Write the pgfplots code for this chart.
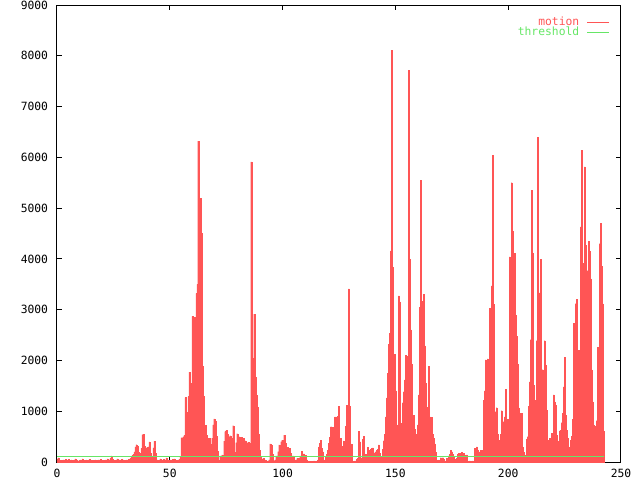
\documentclass[border=0pt]{standalone}
\usepackage{pgfplots}
\usepackage{pgfplotstable}
\pgfplotsset{compat=1.18}
\usepackage{fontspec}
\setmainfont{DejaVu Sans Mono}
\definecolor{motioncol}{RGB}{255,85,85}
\definecolor{threshcol}{RGB}{102,230,102}
% one sample per screen column, spacing 1/2.26 units
\pgfplotstableread[row sep=\\]{
y\\
60\\ 80\\ 40\\ 30\\ 30\\ 30\\ 40\\ 30\\ 50\\ 40\\ 30\\ 50\\ 30\\ 20\\ 40\\ 30\\ 20\\ 40\\ 60\\ 30\\
20\\ 20\\ 30\\ 40\\ 30\\ 60\\ 30\\ 20\\ 30\\ 40\\ 20\\ 30\\ 50\\ 20\\ 30\\ 20\\ 30\\ 20\\ 40\\ 30\\
20\\ 40\\ 30\\ 50\\ 20\\ 30\\ 20\\ 30\\ 40\\ 30\\ 60\\ 30\\ 40\\ 70\\ 120\\ 50\\ 40\\ 30\\ 20\\ 40\\
60\\ 30\\ 40\\ 30\\ 50\\ 20\\ 40\\ 30\\ 20\\ 40\\ 30\\ 50\\ 40\\ 70\\
100\\ 130\\ 150\\ 200\\ 300\\ 340\\ 320\\ 200\\ 170\\ 60\\ 270\\ 540\\ 550\\ 320\\ 240\\ 280\\ 295\\ 300\\ 395\\ 170\\
30\\ 100\\ 280\\ 410\\ 170\\ 40\\ 40\\ 30\\ 40\\
60\\ 40\\ 30\\ 50\\ 30\\ 40\\ 80\\ 40\\ 30\\ 20\\ 40\\ 30\\ 50\\ 40\\ 60\\ 40\\ 30\\ 20\\ 40\\ 50\\ 100\\
480\\ 480\\ 500\\ 530\\ 1270\\ 985\\ 560\\ 1290\\ 1770\\ 1550\\
730\\ 2870\\ 2860\\ 2850\\ 990\\ 3320\\ 3500\\ 6320\\ 3500\\ 5190\\
4500\\ 1890\\ 1290\\ 710\\ 720\\ 530\\ 470\\ 280\\ 470\\ 350\\
350\\ 470\\ 730\\ 850\\ 810\\ 520\\ 215\\ 30\\ 30\\ 120\\
120\\ 140\\ 100\\ 410\\ 600\\ 620\\ 550\\ 370\\ 500\\ 520\\
330\\ 470\\ 715\\ 190\\ 165\\ 380\\ 560\\ 370\\ 500\\ 370\\
485\\ 430\\ 470\\ 410\\ 420\\ 280\\ 370\\ 390\\ 370\\ 350\\ 5910\\
1500\\ 2040\\ 2910\\ 1680\\ 1320\\ 1090\\ 560\\ 240\\ 105\\ 50\\
25\\ 70\\ 25\\ 40\\ 10\\ 10\\ 20\\ 40\\ 355\\ 335\\
160\\ 25\\ 25\\ 40\\ 120\\ 120\\ 205\\ 335\\ 300\\ 400\\
430\\ 400\\ 530\\ 370\\ 235\\ 290\\ 235\\ 270\\
170\\ 120\\ 120\\ 120\\ 40\\ 40\\ 40\\ 70\\ 70\\ 70\\
120\\ 120\\ 215\\ 160\\ 160\\ 130\\ 130\\ 40\\ 15\\ 15\\
15\\ 15\\ 15\\ 15\\ 20\\ 15\\ 15\\ 15\\
40\\ 300\\ 370\\ 430\\ 270\\ 200\\ 40\\ 20\\ 105\\ 150\\
235\\ 370\\ 485\\ 695\\ 500\\ 680\\ 370\\ 890\\ 790\\ 890\\
905\\ 1100\\ 300\\ 465\\ 140\\ 315\\ 415\\ 215\\ 700\\ 1120\\
1100\\ 3410\\ 1100\\ 355\\ 350\\
10\\ 10\\ 20\\ 20\\ 50\\ 70\\ 610\\ 400\\ 20\\ 85\\
445\\ 510\\ 155\\ 155\\ 150\\ 290\\ 235\\ 170\\ 250\\ 270\\
280\\ 170\\ 185\\ 205\\ 235\\ 255\\ 335\\ 170\\ 105\\ 50\\
250\\ 420\\ 545\\ 890\\ 1265\\ 1745\\ 2320\\ 2530\\ 4160\\ 8110\\
3840\\ 1235\\ 2125\\ 1400\\ 730\\ 575\\ 3270\\ 3155\\ 575\\ 760\\
1170\\ 1385\\ 1615\\ 2105\\ 380\\ 2085\\ 7715\\ 3995\\ 2600\\ 1930\\
840\\ 925\\ 645\\ 335\\ 545\\ 730\\ 1320\\ 3045\\ 5550\\ 2600\\
3170\\ 3305\\ 2285\\ 1550\\ 750\\ 1075\\ 1890\\ 890\\ 565\\ 885\\
550\\ 465\\ 355\\ 190\\
40\\ 10\\ 40\\ 10\\ 85\\ 50\\ 85\\ 50\\ 15\\ 20\\
70\\ 70\\ 120\\ 155\\ 235\\ 205\\ 150\\ 105\\ 50\\ 40\\
70\\ 150\\ 170\\ 140\\ 170\\ 190\\ 140\\ 170\\ 130\\ 130\\
140\\ 10\\ 10\\ 20\\ 10\\ 10\\ 20\\ 10\\ 270\\ 235\\
300\\ 235\\ 205\\
170\\ 235\\ 170\\ 235\\ 1220\\ 1400\\ 2010\\ 1875\\ 2030\\ 1190\\
3025\\ 2780\\ 3470\\ 6040\\ 3110\\ 235\\ 990\\ 1070\\ 545\\ 420\\
430\\ 545\\ 1010\\ 300\\ 795\\ 890\\ 1430\\ 420\\ 840\\ 650\\
4040\\ 3880\\ 5500\\ 4550\\ 3450\\ 4110\\ 2890\\ 2480\\ 1930\\ 1070\\
960\\ 550\\ 960\\ 300\\ 200\\ 140\\ 40\\ 450\\ 500\\ 1100\\
1580\\ 2410\\ 5350\\ 4120\\ 1515\\ 1220\\ 815\\ 2390\\ 6400\\ 2730\\
3330\\ 3990\\ 1500\\ 1820\\ 1150\\ 2390\\ 1910\\ 1020\\ 430\\ 420\\
465\\ 250\\ 565\\ 370\\ 1320\\ 1190\\ 1120\\ 530\\ 415\\ 380\\
615\\ 630\\ 775\\ 960\\ 1480\\ 2060\\ 925\\ 630\\ 465\\ 300\\
250\\ 430\\ 510\\ 845\\ 2730\\ 2530\\ 3120\\ 3200\\ 1560\\ 2200\\
1190\\ 4630\\ 6140\\ 3910\\ 3170\\ 5810\\ 4270\\ 2010\\ 3770\\ 4350\\
4160\\ 3610\\ 1820\\ 1190\\ 730\\ 660\\ 700\\ 815\\ 2260\\ 2260\\
4300\\ 4700\\ 3860\\ 3120\\ 600\\
}\motiontable

\begin{document}
\begin{tikzpicture}
\path[use as bounding box] (-42.75pt,-13.5pt) rectangle (437.25pt,346.5pt);
\begin{axis}[
  at={(0pt,0pt)}, anchor=south west,
  scale only axis, width=423pt, height=342.75pt,
  xmin=0, xmax=250, ymin=0, ymax=9000,
  xtick={0,50,...,250}, ytick={0,1000,...,9000},
  minor tick num=0,
  tick align=inside, major tick length=4pt,
  axis line style={line width=0.75pt},
  every tick/.style={black, line width=0.75pt},
  /pgf/number format/assume math mode=true,
  /pgf/number format/1000 sep={},
  scaled ticks=false,
  tick label style={font=\fontsize{8.5}{10}\selectfont, inner sep=0pt},
  yticklabel style={anchor=east, xshift=-6.5pt},
  xticklabel style={anchor=north, yshift=-4.9pt},
  legend cell align=right,
  legend plot pos=right,
  legend style={draw=none, fill=none, at={(rel axis cs:1,1)}, anchor=north east,
    xshift=-8.25pt, yshift=-8pt, inner sep=0pt, row sep=-1.3pt,
    font=\fontsize{8.5}{10}\selectfont,
    nodes={inner sep=0.6pt},
    /tikz/every odd column/.style={column sep=5pt}},
]
\addplot[ybar, bar width=0.44248, fill=motioncol, draw=motioncol, line width=0.1pt,
  legend image code/.code={\draw[motioncol, line width=0.75pt] (0pt,0pt) -- (16.5pt,0pt);}]
  table[x expr=\coordindex*0.44248+0.2212, y=y] {\motiontable};
\addlegendentry{\textcolor{motioncol}{motion}}
\addplot[threshcol, line width=0.8pt,
  legend image code/.code={\draw[threshcol, line width=0.75pt] (0pt,0pt) -- (16.5pt,0pt);}]
  coordinates {(0,100) (242.3,100)};
\addlegendentry{\textcolor{threshcol}{threshold}}
\end{axis}
\end{tikzpicture}
\end{document}
